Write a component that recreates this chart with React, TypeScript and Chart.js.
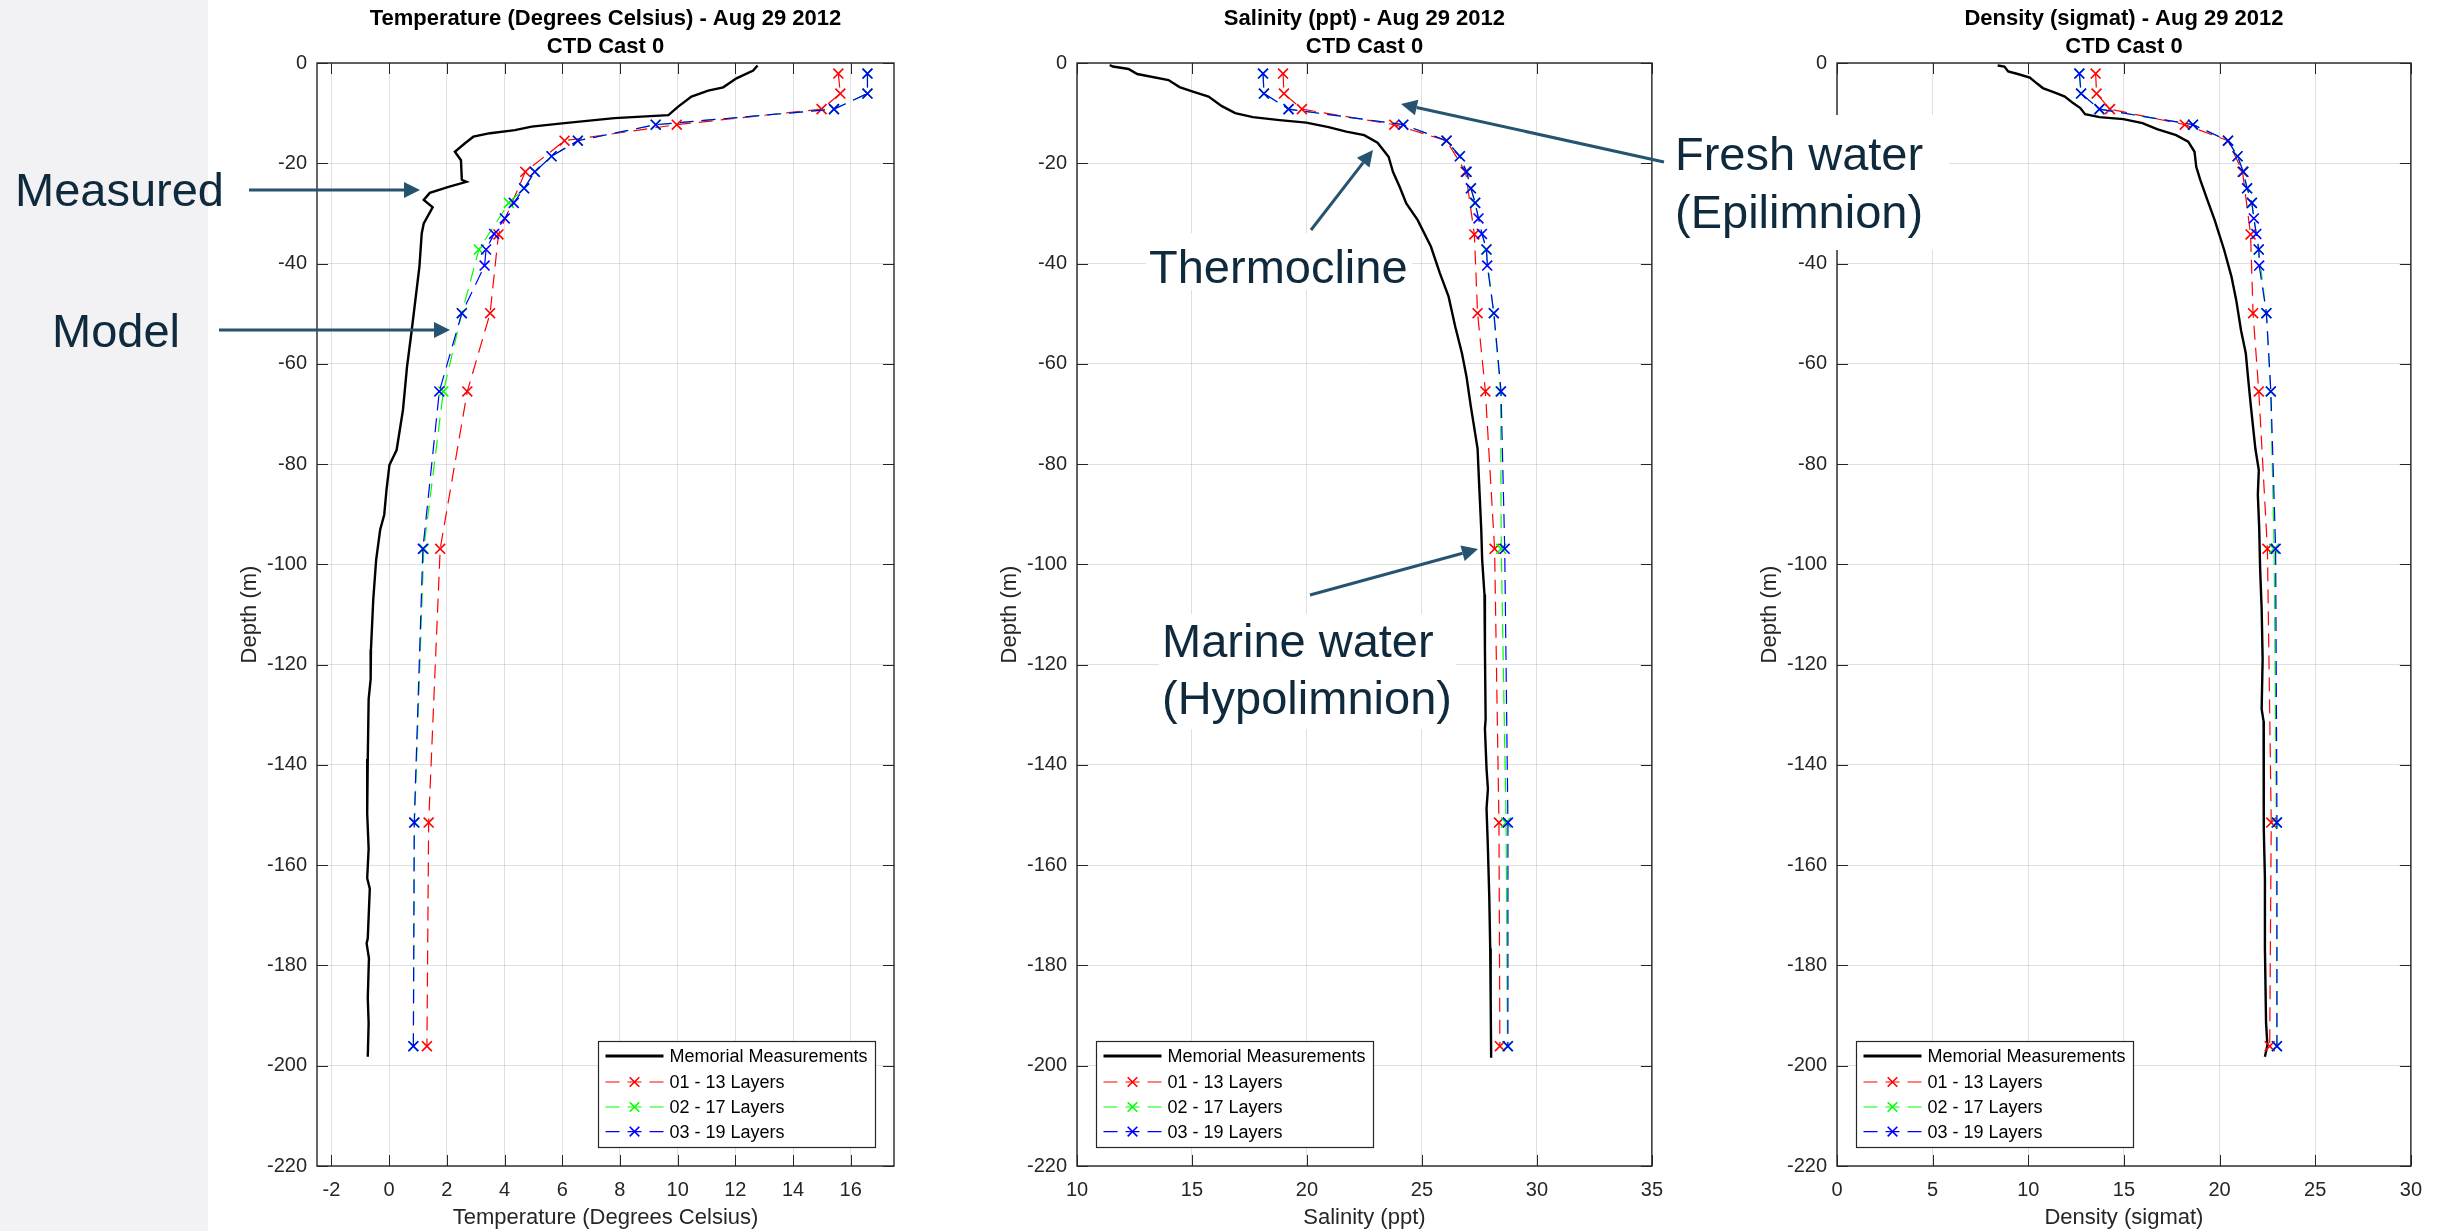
import React, { useEffect, useRef } from 'react';
import { Chart, registerables } from 'chart.js';

Chart.register(...registerables);

// ---------------- DATA ----------------
// Depths (m) of model layers
const depth13 = [-2.1, -6.1, -9.2, -12.3, -15.5, -21.7, -34.2, -49.9, -65.5, -96.9, -151.5, -196.1];
const depth17 = [-2.1, -6.1, -9.2, -12.3, -15.5, -18.6, -21.7, -25.0, -27.9, -37.2, -49.9, -65.5, -96.9, -151.5, -196.1];
const depth19 = [-2.1, -6.1, -9.2, -12.3, -15.5, -18.6, -21.7, -25.0, -27.9, -31.0, -34.1, -37.2, -40.4, -49.9, -65.5, -96.9, -151.5, -196.1];

// Temperature (deg C)
const tempMeasDepth = [-0.5, -1.5, -3.05, -4.85, -5.5, -6.7, -8.7, -10.4, -11.0, -12.0, -12.7, -13.4, -14.0, -14.7, -16.0, -17.7, -19.4, -23.3, -23.7, -24.7, -25.9, -27.3, -28.8, -32.0, -34.0, -40.6, -47.3, -53.9, -60.6, -69.2, -77.2, -80.2, -85.1, -90.1, -93.1, -99.1, -107, -117, -122.9, -126.9, -138.8, -149.7, -156.7, -162.6, -164.7, -174.6, -175.6, -178.6, -186.5, -191.5, -198.2];
const tempMeas = [12.77, 12.62, 12.04, 11.58, 11.06, 10.48, 10.02, 9.68, 7.81, 6.08, 4.94, 4.36, 3.50, 2.92, 2.63, 2.28, 2.49, 2.52, 2.68, 2.06, 1.41, 1.20, 1.51, 1.20, 1.13, 1.05, 0.91, 0.77, 0.62, 0.48, 0.26, 0.01, -0.09, -0.17, -0.31, -0.45, -0.55, -0.63, -0.64, -0.71, -0.74, -0.76, -0.71, -0.76, -0.67, -0.74, -0.78, -0.70, -0.74, -0.71, -0.74];
const temp13 = [15.57, 15.64, 14.99, 9.97, 6.08, 4.72, 3.79, 3.50, 2.71, 1.77, 1.37, 1.31];
const temp17 = [16.58, 16.58, 15.42, 9.24, 6.54, 5.63, 5.05, 4.68, 4.15, 3.11, 2.52, 1.88, 1.20, 0.88, 0.84];
const temp19 = [16.58, 16.58, 15.42, 9.24, 6.54, 5.63, 5.05, 4.68, 4.32, 4.01, 3.64, 3.36, 3.31, 2.52, 1.74, 1.17, 0.87, 0.84];
const tempTicks = [-2, 0, 2, 4, 6, 8, 10, 12, 14, 16];

// Salinity (ppt)
const salMeasDepth = [-0.4, -0.7, -1.2, -2.2, -3.4, -4.8, -5.7, -6.7, -8.6, -10.0, -10.8, -11.4, -11.9, -12.8, -13.7, -14.4, -15.9, -18.7, -21.7, -24.7, -28.0, -31.3, -36.6, -41.9, -46.6, -52.6, -57.9, -62.6, -68.6, -76.9, -83.2, -89.1, -93.1, -99.1, -106.0, -117.0, -130.9, -132.8, -140.8, -144.8, -148.7, -156.7, -166.6, -176.6, -186.5, -198.4];
const salMeas = [11.42, 11.56, 12.24, 12.62, 13.98, 14.46, 15.04, 15.72, 16.30, 16.88, 17.65, 18.81, 19.97, 20.94, 21.71, 22.49, 23.07, 23.55, 23.74, 24.03, 24.32, 24.81, 25.39, 25.78, 26.16, 26.45, 26.74, 26.94, 27.13, 27.42, 27.48, 27.54, 27.58, 27.62, 27.72, 27.74, 27.77, 27.74, 27.81, 27.87, 27.81, 27.87, 27.93, 27.97, 27.99, 28.01];
const sal13 = [18.96, 19.00, 19.78, 23.80, 26.07, 26.90, 27.28, 27.42, 27.76, 28.16, 28.35, 28.39];
const sal17 = [18.09, 18.13, 19.20, 24.19, 26.07, 26.65, 26.94, 27.13, 27.30, 27.79, 28.12, 28.42, 28.45, 28.66, 28.72];
const sal19 = [18.09, 18.13, 19.20, 24.19, 26.07, 26.65, 26.94, 27.13, 27.32, 27.46, 27.61, 27.81, 27.84, 28.13, 28.44, 28.60, 28.74, 28.74];
const salTicks = [10, 15, 20, 25, 30, 35];

// Density (sigma-t)
const densMeasDepth = [-0.5, -0.7, -1.7, -2.2, -2.9, -4.1, -5.0, -6.0, -6.7, -8.0, -9.0, -10.2, -10.8, -11.2, -12.0, -13.2, -14.4, -15.7, -17.7, -20.7, -23.3, -27.3, -31.3, -37.3, -42.6, -47.3, -53.3, -57.9, -63.2, -67.9, -76.9, -81.2, -86.1, -92.6, -101, -109, -118.9, -128.9, -131.3, -140.8, -152.7, -162.6, -176.6, -191.5, -195.9, -198.2];
const densMeas = [8.40, 8.75, 8.95, 9.45, 10.08, 10.46, 10.76, 11.46, 11.91, 12.34, 12.72, 12.97, 13.72, 14.97, 15.97, 16.73, 17.73, 18.36, 18.69, 18.78, 18.99, 19.36, 19.74, 20.24, 20.62, 20.87, 21.12, 21.37, 21.50, 21.62, 21.87, 22.05, 22.0, 22.07, 22.12, 22.20, 22.25, 22.20, 22.30, 22.32, 22.30, 22.37, 22.37, 22.43, 22.50, 22.37];
const dens13 = [13.52, 13.57, 14.27, 18.18, 20.44, 21.20, 21.62, 21.75, 22.05, 22.50, 22.70, 22.62];
const dens17 = [12.67, 12.76, 13.72, 18.61, 20.44, 20.94, 21.24, 21.44, 21.68, 22.04, 22.44, 22.67, 22.85, 22.97, 22.99];
const dens19 = [12.67, 12.76, 13.72, 18.61, 20.44, 20.94, 21.24, 21.44, 21.69, 21.79, 21.92, 22.05, 22.07, 22.45, 22.68, 22.93, 23.0, 23.0];
const densTicks = [0, 5, 10, 15, 20, 25, 30];

const depthTicks = [0, -20, -40, -60, -80, -100, -120, -140, -160, -180, -200, -220];

const seriesLabels = ['Memorial Measurements', '01 - 13 Layers', '02 - 17 Layers', '03 - 19 Layers'];
const titleLine2 = 'CTD Cast 0';
const depthLabel = 'Depth (m)';

// ---------------- STYLE ----------------
const FONT = '"Liberation Sans", Arial, Helvetica, sans-serif';
const AXIS = '#262626';
const GRID = 'rgba(38,38,38,0.14)';
const DASH = [14, 8];
const PAGE_H = 1231;

type PanelDef = {
  id: string;
  title: string;
  xLabel: string;
  xMin: number;
  xMax: number;
  xTicks: number[];
  legendSide: 'left' | 'right';
  measDepth: number[];
  meas: number[];
  m13: number[];
  m17: number[];
  m19: number[];
  left: number;
  width: number;
};

const panels: PanelDef[] = [
  { id: 'temp', title: 'Temperature (Degrees Celsius) - Aug 29 2012', xLabel: 'Temperature (Degrees Celsius)', xMin: -2.5, xMax: 17.5, xTicks: tempTicks, legendSide: 'right', measDepth: tempMeasDepth, meas: tempMeas, m13: temp13, m17: temp17, m19: temp19, left: 220, width: 694 },
  { id: 'sal', title: 'Salinity (ppt) - Aug 29 2012', xLabel: 'Salinity (ppt)', xMin: 10, xMax: 35, xTicks: salTicks, legendSide: 'left', measDepth: salMeasDepth, meas: salMeas, m13: sal13, m17: sal17, m19: sal19, left: 980, width: 695 },
  { id: 'dens', title: 'Density (sigmat) - Aug 29 2012', xLabel: 'Density (sigmat)', xMin: 0, xMax: 30, xTicks: densTicks, legendSide: 'left', measDepth: densMeasDepth, meas: densMeas, m13: dens13, m17: dens17, m19: dens19, left: 1740, width: 694 },
];

function pts(xs: number[], ys: number[]) {
  return xs.map((x, i) => ({ x, y: ys[i] }));
}

function drawCross(ctx: CanvasRenderingContext2D, x: number, y: number, h: number) {
  ctx.beginPath();
  ctx.moveTo(x - h, y - h);
  ctx.lineTo(x + h, y + h);
  ctx.moveTo(x - h, y + h);
  ctx.lineTo(x + h, y - h);
  ctx.stroke();
}

const framePlugin = {
  id: 'frame',
  afterDraw(chart: any, _args: any, opts: any) {
    const { ctx, chartArea: a, scales } = chart;
    ctx.save();
    // inward tick marks on all four sides
    const tl = 11;
    ctx.strokeStyle = AXIS;
    ctx.lineWidth = 1;
    ctx.beginPath();
    scales.x.ticks.forEach((t: any) => {
      const px = Math.round(scales.x.getPixelForValue(t.value)) + 0.5;
      ctx.moveTo(px, a.bottom);
      ctx.lineTo(px, a.bottom - tl);
      ctx.moveTo(px, a.top);
      ctx.lineTo(px, a.top + tl);
    });
    scales.y.ticks.forEach((t: any) => {
      const py = Math.round(scales.y.getPixelForValue(t.value)) + 0.5;
      ctx.moveTo(a.left, py);
      ctx.lineTo(a.left + tl, py);
      ctx.moveTo(a.right, py);
      ctx.lineTo(a.right - tl, py);
    });
    ctx.stroke();
    // axes box
    ctx.lineWidth = 1.4;
    ctx.strokeRect(a.left, a.top, a.right - a.left, a.bottom - a.top);

    // title (two lines)
    ctx.fillStyle = '#000';
    ctx.font = `bold 22px ${FONT}`;
    ctx.textAlign = 'center';
    ctx.textBaseline = 'alphabetic';
    const cx = (a.left + a.right) / 2;
    ctx.fillText(opts.title1, cx, 25);
    ctx.fillText(opts.title2, cx, 53);

    // legend box
    const bw = 277;
    const bh = 106;
    const bx = opts.side === 'right' ? a.right - 19 - bw : a.left + 19;
    const by = a.bottom - 19 - bh;
    ctx.fillStyle = '#fff';
    ctx.fillRect(bx, by, bw, bh);
    ctx.strokeStyle = AXIS;
    ctx.lineWidth = 1.2;
    ctx.strokeRect(bx + 0.5, by + 0.5, bw, bh);
    const rows = [15, 41, 66, 90.6];
    ctx.font = `18px ${FONT}`;
    ctx.textAlign = 'left';
    ctx.textBaseline = 'middle';
    chart.data.datasets.forEach((ds: any, i: number) => {
      const y = by + rows[i];
      ctx.save();
      ctx.strokeStyle = ds.borderColor;
      ctx.lineWidth = i === 0 ? 3 : 1.2;
      ctx.setLineDash(ds.borderDash || []);
      ctx.beginPath();
      ctx.moveTo(bx + 7.5, y);
      ctx.lineTo(bx + 65.5, y);
      ctx.stroke();
      ctx.setLineDash([]);
      if (i > 0) {
        ctx.lineWidth = 1.6;
        drawCross(ctx, bx + 36.5, y, 4.8);
      }
      ctx.restore();
      ctx.fillStyle = '#000';
      ctx.fillText(ds.label, bx + 71.5, y + 1);
    });
    ctx.restore();
  },
};

function PanelChart({ p }: { p: PanelDef }) {
  const ref = useRef<HTMLCanvasElement | null>(null);
  useEffect(() => {
    if (!ref.current) return;
    const model = (vals: number[], depths: number[], color: string, label: string, order: number) => ({
      label,
      data: pts(vals, depths),
      showLine: true,
      borderColor: color,
      backgroundColor: color,
      borderWidth: 1.2,
      borderDash: DASH,
      pointStyle: 'crossRot',
      pointRadius: 7,
      pointBorderWidth: 1.6,
      pointBorderColor: color,
      pointBackgroundColor: color,
      tension: 0,
      order,
    });
    const chart = new Chart(ref.current, {
      type: 'scatter',
      data: {
        datasets: [
          {
            label: seriesLabels[0],
            data: pts(p.meas, p.measDepth),
            showLine: true,
            borderColor: '#000',
            backgroundColor: '#000',
            borderWidth: 2.4,
            pointRadius: 0,
            tension: 0,
            order: 4,
          } as any,
          model(p.m13, depth13, '#ff0000', seriesLabels[1], 3),
          model(p.m17, depth17, '#00ff00', seriesLabels[2], 2),
          model(p.m19, depth19, '#0000ff', seriesLabels[3], 1),
        ],
      },
      options: {
        responsive: false,
        maintainAspectRatio: false,
        devicePixelRatio: 1,
        animation: false,
        events: [],
        layout: { padding: { left: 0, right: 20, top: 63, bottom: 0 } },
        plugins: {
          legend: { display: false },
          title: { display: false },
          tooltip: { enabled: false },
          frame: { title1: p.title, title2: titleLine2, side: p.legendSide },
        } as any,
        scales: {
          x: {
            type: 'linear',
            min: p.xMin,
            max: p.xMax,
            border: { display: false },
            grid: { color: GRID, lineWidth: 1, drawTicks: false },
            ticks: { color: AXIS, font: { family: FONT, size: 20 }, padding: 12 },
            afterBuildTicks: (s: any) => { s.ticks = p.xTicks.map((v) => ({ value: v })); },
            title: { display: true, text: p.xLabel, color: AXIS, font: { family: FONT, size: 22 }, padding: { top: 0, bottom: 0 } },
            afterFit: (s: any) => { s.height = 65; },
          },
          y: {
            type: 'linear',
            min: -220,
            max: 0,
            border: { display: false },
            grid: { color: GRID, lineWidth: 1, drawTicks: false },
            ticks: { color: AXIS, font: { family: FONT, size: 20 }, padding: 10 },
            afterBuildTicks: (s: any) => { s.ticks = depthTicks.map((v) => ({ value: v })); },
            title: { display: true, text: depthLabel, color: AXIS, font: { family: FONT, size: 22 }, padding: { top: 17, bottom: 0 } },
            afterFit: (s: any) => { s.width = 97; },
          },
        },
      } as any,
      plugins: [framePlugin as any],
    });
    return () => chart.destroy();
  }, [p]);
  return (
    <div style={{ position: 'absolute', left: p.left, top: 0, width: p.width, height: PAGE_H }}>
      <canvas ref={ref} width={p.width} height={PAGE_H} style={{ width: p.width, height: PAGE_H, display: 'block' }} />
    </div>
  );
}

const ARROW = '#26536f';
const NOTE = '#0f2a3c';

function Arrow({ x1, y1, x2, y2 }: { x1: number; y1: number; x2: number; y2: number }) {
  const dx = x2 - x1;
  const dy = y2 - y1;
  const L = Math.hypot(dx, dy);
  const ux = dx / L;
  const uy = dy / L;
  const hl = 16;
  const hw = 8;
  const bx = x2 - ux * hl;
  const by = y2 - uy * hl;
  return (
    <g>
      <line x1={x1} y1={y1} x2={bx} y2={by} stroke={ARROW} strokeWidth={3} />
      <polygon points={`${x2},${y2} ${bx - uy * hw},${by + ux * hw} ${bx + uy * hw},${by - ux * hw}`} fill={ARROW} />
    </g>
  );
}

function Notes() {
  const ts = { fontFamily: FONT, fontSize: 47, fill: NOTE } as any;
  return (
    <svg width={2457} height={PAGE_H} style={{ position: 'absolute', left: 0, top: 0, pointerEvents: 'none' }}>
      <rect x={1146} y={233} width={266} height={57} fill="#fff" />
      <rect x={1159} y={614} width={297} height={115} fill="#fff" />
      <rect x={1664} y={115} width={285} height={135} fill="#fff" />
      <text x={15} y={206} {...ts}>Measured</text>
      <text x={52} y={347} {...ts}>Model</text>
      <text x={1149} y={283} {...ts}>Thermocline</text>
      <text x={1675} y={170} {...ts}>Fresh water</text>
      <text x={1675} y={228} {...ts}>(Epilimnion)</text>
      <text x={1162} y={657} {...ts}>Marine water</text>
      <text x={1162} y={714} {...ts}>(Hypolimnion)</text>
      <Arrow x1={249} y1={190} x2={420} y2={190} />
      <Arrow x1={219} y1={330} x2={450} y2={330} />
      <Arrow x1={1311} y1={230} x2={1373} y2={150} />
      <Arrow x1={1664} y1={162} x2={1401} y2={104} />
      <Arrow x1={1310} y1={595} x2={1478} y2={549} />
    </svg>
  );
}

export default function App() {
  return (
    <div style={{ position: 'absolute', left: 0, top: 0, width: 2457, height: PAGE_H, background: '#fff', overflow: 'hidden' }}>
      <div style={{ position: 'absolute', left: 0, top: 0, width: 208, height: PAGE_H, background: '#f2f2f4' }} />
      {panels.map((p) => (
        <PanelChart key={p.id} p={p} />
      ))}
      <Notes />
    </div>
  );
}
